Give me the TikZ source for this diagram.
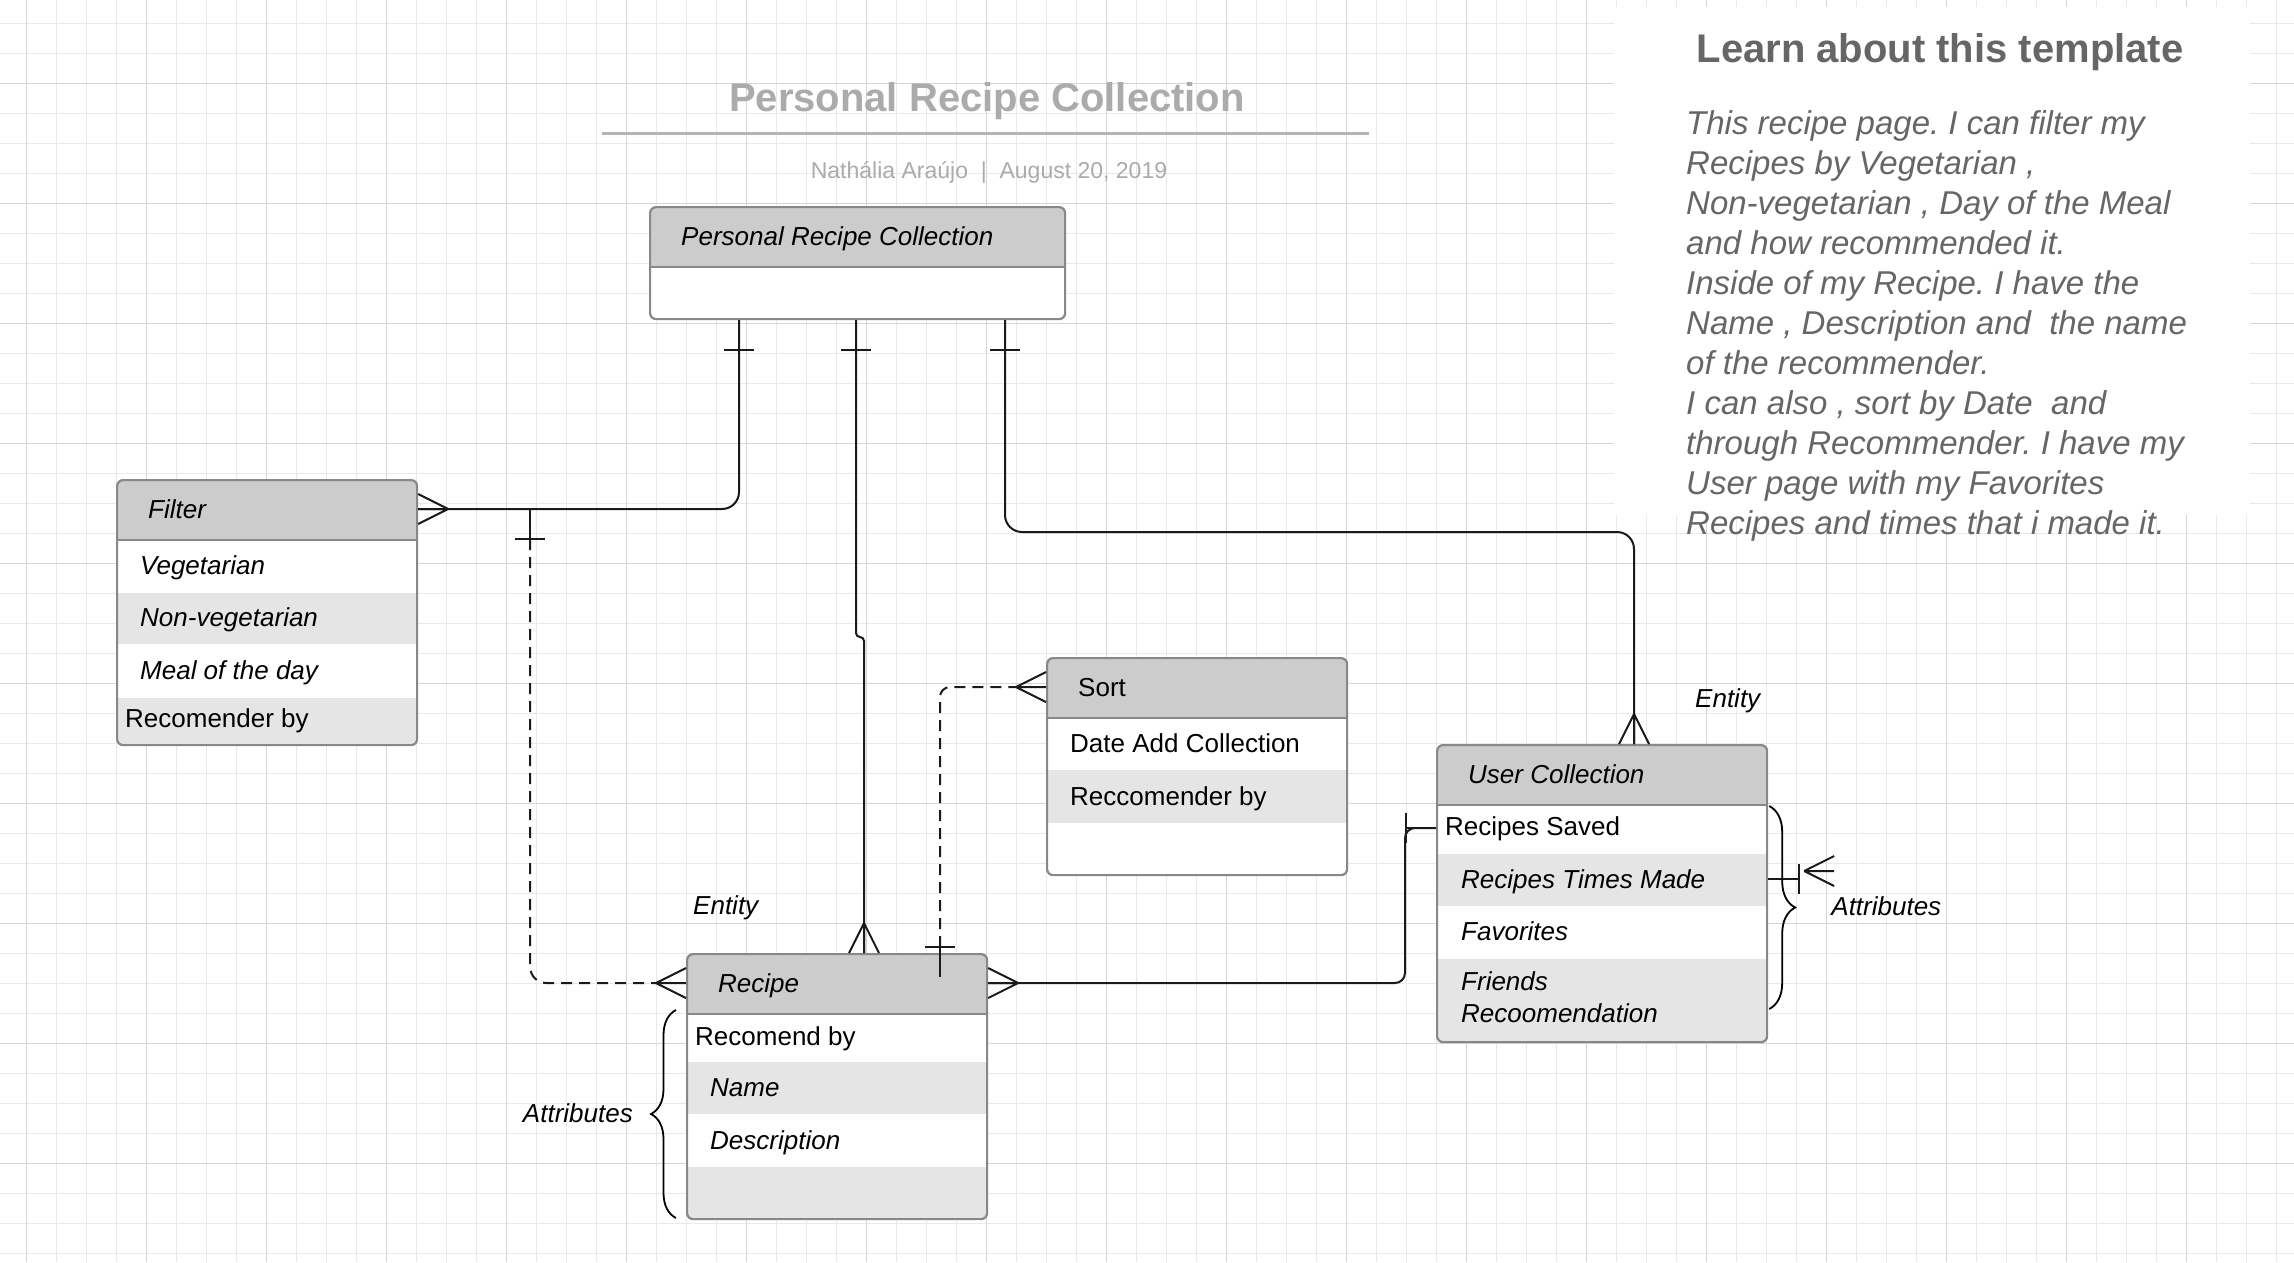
\documentclass[tikz,border=0pt]{standalone}
\usepackage{fontspec}
\setmainfont{Liberation Sans}
\frenchspacing
\usetikzlibrary{positioning,calc}
\usetikzlibrary{decorations.pathreplacing}

\definecolor{gridminor}{HTML}{E9E9E9}
\definecolor{gridmajor}{HTML}{D6D6D6}
\definecolor{framecol}{HTML}{888888}
\definecolor{hdcol}{HTML}{CCCCCC}
\definecolor{altcol}{HTML}{E5E5E5}
\definecolor{linecol}{HTML}{1A1A1A}
\definecolor{titlecol}{HTML}{ABABAB}
\definecolor{rulecol}{HTML}{B4B4B4}
\definecolor{panelcol}{HTML}{666666}

\tikzstyle{rel}=[draw=linecol, line width=2pt]
\tikzstyle{reld}=[rel, dash pattern=on 11pt off 7pt]
\tikzstyle{lbl}=[inner sep=0pt, anchor=west, text height=18.6pt, text depth=0pt, font=\fontsize{26}{32}\selectfont]
\tikzstyle{ilbl}=[lbl, font=\fontsize{26}{32}\selectfont\itshape]
\tikzstyle{note}=[inner sep=0pt, font=\fontsize{26}{32}\selectfont\itshape]
\tikzstyle{curly}=[draw=black, line width=1.8pt, decorate, decoration={brace, amplitude=25pt}]

% box with grey header and grey rows #1 = list of from/to offsets
\tikzset{ent/.style={draw=framecol, line width=2.2pt, rounded corners=6pt, fill=white,
    anchor=north west, inner sep=0pt,
    path picture={
      \fill[hdcol, sharp corners] (path picture bounding box.north west) rectangle ([yshift=-60pt]path picture bounding box.north east);
      \foreach \a/\b in {#1}
        \fill[altcol, sharp corners] ([yshift=-\a pt]path picture bounding box.north west) rectangle ([yshift=-\b pt]path picture bounding box.north east);
      \draw[framecol, line width=2.2pt, sharp corners] ([yshift=-60pt]path picture bounding box.north west) -- ([yshift=-60pt]path picture bounding box.north east);
    }}}

\newcommand{\crowfoot}[2]{\draw[rel, shift={#1}, rotate=#2] (0,15) -- (30,0) (0,-15) -- (30,0) (0,0) -- (30,0);}
\newcommand{\onebar}[2]{\draw[rel, shift={#1}, rotate=#2] (0,0) -- (30,0) (30,15) -- (30,-15);}

\begin{document}
\begin{tikzpicture}[x=1pt, y=-1pt]
\useasboundingbox (0,0) rectangle (2294,1262);
\fill[white] (0,0) rectangle (2294,1262);

% grid paper
\foreach \gx in {26.7,56.7,...,2294} \draw[gridminor, line width=1.2pt] (\gx,0) -- (\gx,1262);
\foreach \gy in {23.3,53.3,...,1262} \draw[gridminor, line width=1.2pt] (0,\gy) -- (2294,\gy);
\foreach \gx in {26.7,146.7,...,2294} \draw[gridmajor, line width=1.2pt] (\gx,0) -- (\gx,1262);
\foreach \gy in {83.3,203.3,...,1262} \draw[gridmajor, line width=1.2pt] (0,\gy) -- (2294,\gy);
\fill[white] (1614,7) rectangle (2250,515);

% title
\node[anchor=base, inner sep=0pt, font=\fontsize{40}{48}\selectfont\bfseries, text=titlecol] (title) at (987,111) {Personal Recipe Collection};
\draw[rulecol, line width=3pt] ($(title.base)+(-385,22)$) -- ($(title.base)+(382,22)$);
\node[anchor=base, inner sep=0pt, font=\fontsize{23}{28}\selectfont, text=titlecol] (byline) at (989,178) {Nathália Araújo~~|~~August 20, 2019};

% about panel
\node[anchor=base, inner sep=0pt, font=\fontsize{40}{48}\selectfont\bfseries, text=panelcol] (learn) at (1940,62) {Learn about this template};
\node[anchor=north west, align=left, inner sep=0pt, font=\fontsize{33}{40}\selectfont\itshape, text=panelcol] (about) at (1686,110) {This recipe page. I can filter my\\
Recipes by Vegetarian ,\\
Non-vegetarian , Day of the Meal\\
and how recommended it.\\
Inside of my Recipe. I have the\\
Name , Description and~ the name\\
of the recommender.\\
I can also , sort by Date~ and\\
through Recommender. I have my\\
User page with my Favorites\\
Recipes and times that i made it.};

% entities
\node[ent={60/60}, minimum width=415pt, minimum height=112pt] (prc) at (649,206) {};
\node[ilbl] (prch) at ($(prc.north west)+(32,30)$) {Personal Recipe Collection};

\node[ent={112.7/164,217.7/265}, minimum width=300pt, minimum height=265pt] (filter) at (116,479) {};
\node[ilbl] (filterh) at ($(filter.north west)+(32,30)$) {Filter};
\node[ilbl] (filter1) at ($(filter.north west)+(24,86)$) {Vegetarian};
\node[ilbl] (filter2) at ($(filter.north west)+(24,138)$) {Non-vegetarian};
\node[ilbl] (filter3) at ($(filter.north west)+(24,191)$) {Meal of the day};
\node[lbl] (filter4) at ($(filter.north west)+(9,239)$) {Recomender by};

\node[ent={112.3/165}, minimum width=300pt, minimum height=217pt] (sort) at (1046,657) {};
\node[lbl] (sorth) at ($(sort.north west)+(32,30)$) {Sort};
\node[lbl] (sort1) at ($(sort.north west)+(24,86)$) {Date Add Collection};
\node[lbl] (sort2) at ($(sort.north west)+(24,139)$) {Reccomender by};

\node[ent={108.4/160.7,213.4/297}, minimum width=330pt, minimum height=297pt] (uc) at (1436,744) {};
\node[ilbl] (uch) at ($(uc.north west)+(32,30)$) {User Collection};
\node[lbl] (uc1) at ($(uc.north west)+(9,82)$) {Recipes Saved};
\node[ilbl] (uc2) at ($(uc.north west)+(25,135)$) {Recipes Times Made};
\node[ilbl] (uc3) at ($(uc.north west)+(25,187)$) {Favorites};
\node[ilbl, align=left, text height=50.6pt, text depth=0pt] (uc4) at ($(uc.north west)+(25,253)$) {Friends\\Recoomendation};

\node[ent={108/160.3,212.7/265}, minimum width=300pt, minimum height=265pt] (recipe) at (686,953) {};
\node[ilbl] (recipeh) at ($(recipe.north west)+(32,30)$) {Recipe};
\node[lbl] (recipe1) at ($(recipe.north west)+(9,83)$) {Recomend by};
\node[ilbl] (recipe2) at ($(recipe.north west)+(24,134)$) {Name};
\node[ilbl] (recipe3) at ($(recipe.north west)+(24,187)$) {Description};

% connector ends
\coordinate (prcA) at ($(prc.south west)+(90,0)$);
\coordinate (prcB) at ($(prc.south west)+(207,0)$);
\coordinate (prcC) at ($(prc.south west)+(356,0)$);
\coordinate (filtR) at (filter.east |- filterh);
\coordinate (fjoin) at ($(filtR)+(112,0)$);
\coordinate (recL) at (recipe.west |- recipeh);
\coordinate (recR) at (recipe.east |- recipeh);
\coordinate (recT) at ($(recipe.north west)+(178,0)$);
\coordinate (recS) at ($(recipe.north west)+(254,24)$);
\coordinate (sortL) at (sort.west |- sorth);
\coordinate (ucT) at ($(uc.north west)+(198,0)$);
\coordinate (ucL) at ($(uc.west |- uc1)+(0,2)$);
\coordinate (ucR) at (uc.east |- uc2);

% relations
\draw[rel, rounded corners=17pt] (filtR) -| (prcA);
\draw[rel, rounded corners=4pt] (prcB) |- ($(recT)+(0,-316)$) -- (recT);
\draw[rel, rounded corners=17pt] (prcC) |- ($(ucT)+(0,-212)$) -- (ucT);
\draw[reld, rounded corners=16pt] ($(fjoin)+(0,30)$) |- ($(recL)+(-30,0)$);
\draw[reld, rounded corners=10pt] ($(recS)+(0,-30)$) |- ($(sortL)+(-30,0)$);
\draw[rel, rounded corners=10pt] (recR) -| ($(ucL)+(-31,0)$) -- (ucL);

\crowfoot{(filtR)}{0}
\onebar{(prcA)}{-90}
\onebar{(prcB)}{-90}
\crowfoot{(recT)}{90}
\onebar{(prcC)}{-90}
\crowfoot{(ucT)}{90}
\onebar{(fjoin)}{-90}
\crowfoot{(recL)}{180}
\onebar{(recS)}{90}
\crowfoot{(sortL)}{180}
\crowfoot{(recR)}{0}
\onebar{(ucL)}{180}
\draw[rel] (ucR) -- ++(31,0);
\draw[rel] ($(ucR)+(31,-15)$) -- ++(0,30);
\crowfoot{($(ucR)+(66,-8)$)}{180}

% braces and notes
\draw[curly] ($(recipe.north west)+(-10,265)$) -- ($(recipe.north west)+(-10,57)$);
\draw[curly, decoration={brace, amplitude=26pt}] ($(uc.north east)+(1,62)$) -- ($(uc.north east)+(1,265)$);
\node[note, anchor=base west] (entR) at ($(recipe.north west)+(7,-39)$) {Entity};
\node[note, anchor=base west] (entU) at ($(uc.north west)+(259,-37)$) {Entity};
\node[note, anchor=base east] (attrR) at ($(recipe.north west)+(-53,169)$) {Attributes};
\node[note, anchor=base west] (attrU) at ($(uc.north east)+(63,171)$) {Attributes};
\end{tikzpicture}
\end{document}
